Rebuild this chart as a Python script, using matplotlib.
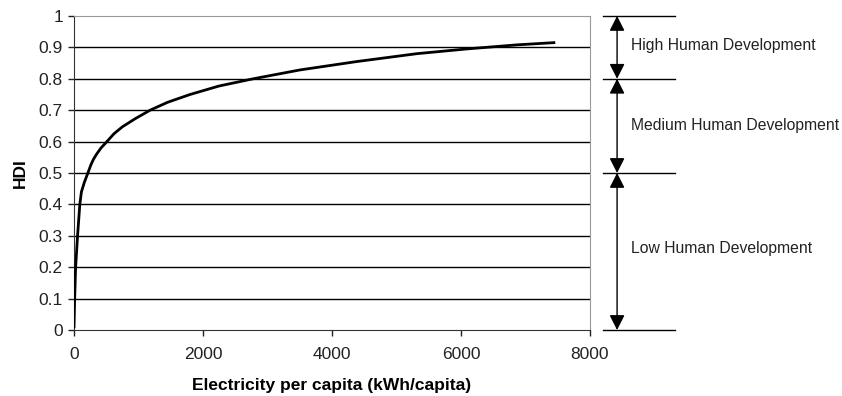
import numpy as np
import matplotlib.pyplot as plt

plt.rcParams['font.family'] = ['Liberation Sans', 'DejaVu Sans']

# electricity per capita (kWh) vs HDI
elec = [0, 10, 25, 55, 90, 115, 160, 215, 260, 300, 350, 420, 510, 620, 750, 950, 1180, 1450,
        1800, 2250, 2780, 3500, 4390, 5320, 6090, 6870, 7440]
hdi = [0.01, 0.1, 0.2, 0.3, 0.4, 0.44, 0.47, 0.5, 0.525, 0.543, 0.56, 0.58, 0.6, 0.625,
       0.647, 0.673, 0.7, 0.725, 0.75, 0.777, 0.8, 0.828, 0.855, 0.88, 0.895, 0.908, 0.915]

bands = [(0.8, 1.0, "High Human Development", 0.905),
         (0.5, 0.8, "Medium Human Development", 0.65),
         (0.0, 0.5, "Low Human Development", 0.26)]

fig = plt.figure(figsize=(8.42, 3.96), dpi=100)
ax = fig.add_axes([0.0879, 0.1667, 0.6128, 0.793])

for y in np.arange(0.1, 0.95, 0.1):
    ax.axhline(y, color='black', lw=1.0, zorder=1)

ax.plot(elec, hdi, color='black', lw=2.0, zorder=3)

ax.set_xlim(0, 8000)
ax.set_ylim(0, 1)
ax.set_xticks([0, 2000, 4000, 6000, 8000])
ax.set_yticks(np.round(np.arange(0, 1.01, 0.1), 1))
ax.set_yticklabels(['0', '0.1', '0.2', '0.3', '0.4', '0.5', '0.6', '0.7', '0.8', '0.9', '1'])
ax.tick_params(direction='out', length=4, width=1, labelsize=12.5, colors='#222222')
ax.tick_params(axis='x', pad=8)
ax.tick_params(axis='y', pad=4)

for side in ['top', 'right']:
    ax.spines[side].set_color('#999999')
for side in ['left', 'bottom']:
    ax.spines[side].set_color('#333333')

ax.set_xlabel("Electricity per capita (kWh/capita)", fontsize=12.5, fontweight='bold', labelpad=12)
ax.set_ylabel("HDI", fontsize=12.5, fontweight='bold', labelpad=8)

# right-hand bands with double arrows
x_arrow = 8420
for lo, hi, label, ty in bands:
    ax.annotate('', xy=(x_arrow, lo), xytext=(x_arrow, hi),
                arrowprops=dict(arrowstyle='<|-|>,head_length=0.65,head_width=0.33',
                                color='black', lw=1.0,
                                mutation_scale=14, shrinkA=0, shrinkB=0),
                annotation_clip=False)
    ax.text(8640, ty, label, fontsize=11.3, va='center', ha='left', color='#222222')

for y in [0.0, 0.5, 0.8, 1.0]:
    ax.plot([8200, 9320], [y, y], color='black', lw=1.0, clip_on=False)

fig.savefig("out.png", dpi=100)
plt.close(fig)
